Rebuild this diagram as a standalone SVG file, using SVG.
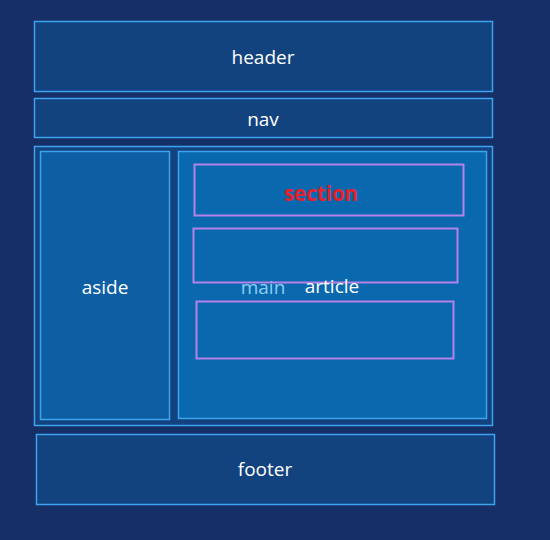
<svg xmlns="http://www.w3.org/2000/svg" width="550" height="540" viewBox="0 0 550 540">
<style>
.box{fill:#12437f;stroke:#3ea3ee;stroke-width:1.5}
.inner{stroke:#3ea3ee;stroke-width:1.5}
.art{fill:none;stroke:#b482ea;stroke-width:2}
text{font-family:"Open Sans","Noto Sans","DejaVu Sans",sans-serif;font-size:19px;fill:#ffffff;text-anchor:middle;dominant-baseline:central}
</style>
<rect x="0" y="0" width="550" height="540" fill="#162f66"/>
<g id="header"><rect class="box" x="34.5" y="21.5" width="458" height="70"/><text x="263" y="57">header</text></g>
<g id="nav"><rect class="box" x="34.5" y="98.5" width="458" height="39"/><text x="263" y="119">nav</text></g>
<g id="wrapper"><rect class="box" x="34.5" y="146.5" width="458" height="279"/></g>
<g id="aside"><rect class="inner" fill="#0e5ea4" x="40.5" y="151.5" width="129" height="268"/><text x="105" y="287">aside</text></g>
<g id="main"><rect class="inner" fill="#0a68ae" x="178.5" y="151.5" width="308" height="267"/><text x="263" y="287" style="fill:#8ccdf2">main</text></g>
<g id="section"><rect class="art" x="194.5" y="164.5" width="269" height="51"/><text x="321" y="193" style="fill:#e8202a;font-weight:bold;font-size:20.5px">section</text></g>
<g id="article1"><rect class="art" x="193.5" y="228.5" width="264" height="54"/></g>
<g id="article-label"><text x="332" y="286">article</text></g>
<g id="article2"><rect class="art" x="196.5" y="301.5" width="257" height="57"/></g>
<g id="footer"><rect class="box" x="36.5" y="434.5" width="458" height="70"/><text x="265" y="469">footer</text></g>
<g id="connectors"></g>
</svg>
